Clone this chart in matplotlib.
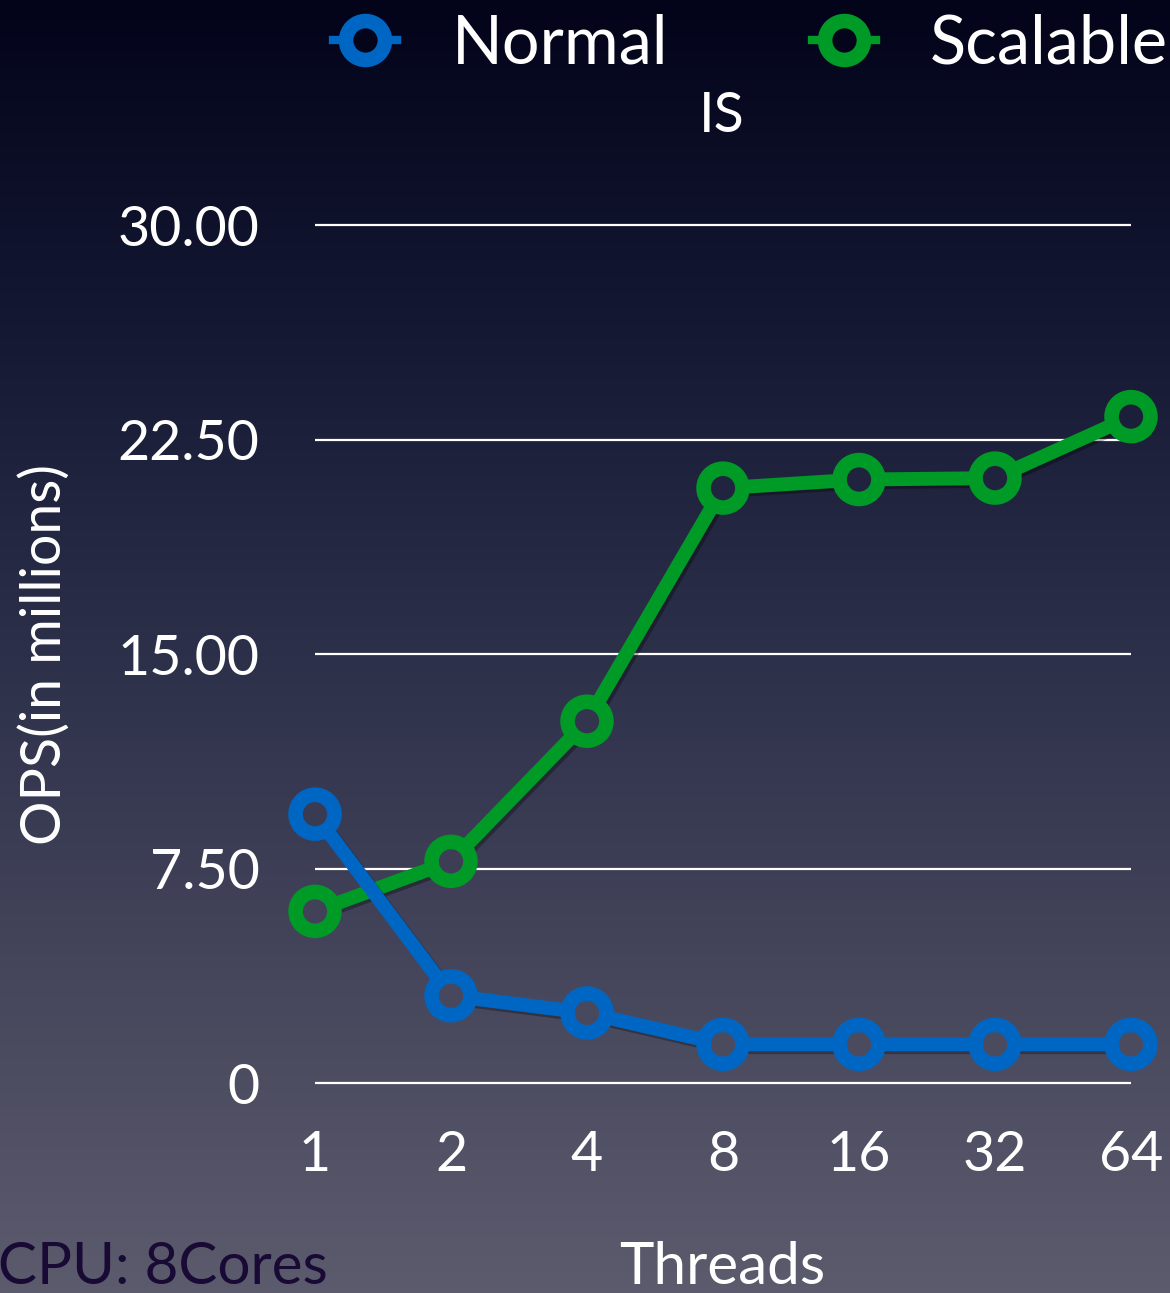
import numpy as np
import matplotlib.pyplot as plt
import matplotlib.patheffects as pe
from matplotlib.colors import LinearSegmentedColormap
from matplotlib.lines import Line2D

plt.rcParams['font.family'] = ['Lato', 'DejaVu Sans']

threads = ['1', '2', '4', '8', '16', '32', '64']
normal = [9.4, 3.05, 2.45, 1.35, 1.35, 1.35, 1.35]
scalable = [6.0, 7.75, 12.65, 20.8, 21.1, 21.15, 23.3]
yticks = [0, 7.5, 15, 22.5, 30]
ytick_labels = ['0', '7.50', '15.00', '22.50', '30.00']

BLUE = '#0066c4'
GREEN = '#009a26'
W, H = 1170, 1293

fig = plt.figure(figsize=(W / 100, H / 100), dpi=100)

# dark slide background, navy at the top fading to grey
bg = LinearSegmentedColormap.from_list('bg', [(0, '#03041a'), (0.25, '#151833'),
                                              (0.55, '#31344d'), (0.8, '#4a4a5f'),
                                              (1, '#5c5b6e')])
bg_ax = fig.add_axes([0, 0, 1, 1], zorder=-1)
bg_ax.imshow(np.linspace(0, 1, H).reshape(-1, 1), aspect='auto', cmap=bg, extent=[0, 1, 0, 1])
bg_ax.axis('off')

ax = fig.add_axes([315 / W, 1 - 1083 / H, (1131 - 315) / W, (1083 - 225) / H])
ax.patch.set_alpha(0)
ax.set_xlim(0, len(threads) - 1)
ax.set_ylim(0, 30)
for s in ax.spines.values():
    s.set_visible(False)

ax.hlines(yticks, 0, len(threads) - 1, color='white', lw=1.6, clip_on=False, zorder=1)

x = np.arange(len(threads))
shadow = [pe.SimpleLineShadow(offset=(2, -2), alpha=0.3), pe.Normal()]


def hole_colors(vals):
    cols = []
    for v in vals:
        py = ax.transData.transform((0, v))[1]
        cols.append(bg(1 - py / H))
    return cols


for vals, col, z in [(scalable, GREEN, 3), (normal, BLUE, 5)]:
    ax.plot(x, vals, color=col, lw=10, solid_capstyle='round', clip_on=False,
            zorder=z, path_effects=shadow)
    ax.scatter(x, vals, s=28 ** 2, c=hole_colors(vals), edgecolors=col, linewidths=10.5,
               clip_on=False, zorder=z + 1)

ax.set_xticks(x, threads)
ax.set_yticks(yticks, ytick_labels)
ax.tick_params(axis='both', length=0, colors='white', labelsize=40)
ax.tick_params(axis='y', pad=40)
ax.tick_params(axis='x', pad=34)

fig.text(45 / W, 1 - 655 / H, 'OPS(in millions)', rotation=90, color='white',
         fontsize=40, ha='center', va='center')
fig.text(722 / W, 1 - 117 / H, 'IS', color='white', fontsize=40, ha='center', va='center')
fig.text(722 / W, 1 - 1268 / H, 'Threads', color='white', fontsize=42, ha='center', va='center')
fig.text(-2 / W, 1 - 1268 / H, 'CPU: 8Cores', color='#180a34', fontsize=42, ha='left', va='center')

handles = [Line2D([], [], color=c, lw=6, marker='o', markersize=28, markeredgewidth=10.5,
                  markerfacecolor='#04051b', markeredgecolor=c) for c in (BLUE, GREEN)]
fig.legend(handles, ['Normal', 'Scalable'], ncol=2, frameon=False, loc='upper left',
           bbox_to_anchor=(333 / W, 1 - 13 / H), borderpad=0, borderaxespad=0,
           handlelength=0.96, handletextpad=0.82, columnspacing=2.15,
           fontsize=48, labelcolor='white')

fig.savefig('out.png', dpi=100)
